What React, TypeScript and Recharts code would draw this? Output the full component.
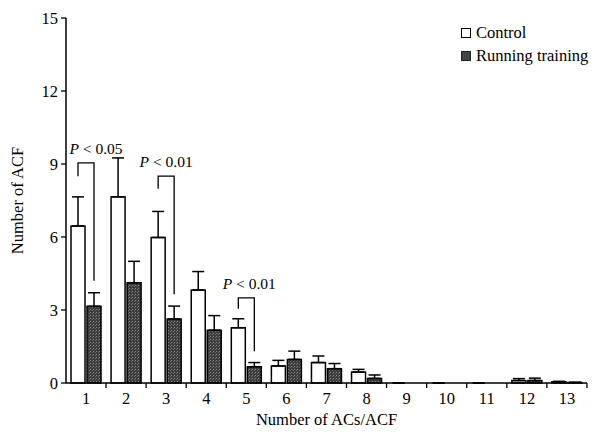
import { Bar, BarChart, ErrorBar, XAxis, YAxis } from 'recharts'

const categories = ['1', '2', '3', '4', '5', '6', '7', '8', '9', '10', '11', '12', '13']
const control = [6.45, 7.65, 5.98, 3.82, 2.27, 0.7, 0.84, 0.45, 0, 0, 0, 0.1, 0.05]
const controlErr = [1.2, 1.6, 1.07, 0.76, 0.37, 0.23, 0.27, 0.11, 0, 0, 0, 0.08, 0.02]
const running = [3.15, 4.12, 2.63, 2.17, 0.67, 0.97, 0.59, 0.19, 0, 0, 0, 0.1, 0.02]
const runningErr = [0.56, 0.88, 0.53, 0.6, 0.17, 0.34, 0.21, 0.14, 0, 0, 0, 0.1, 0.01]
const yTicks = [0, 3, 6, 9, 12, 15]
const seriesNames = ['Control', 'Running training']

// significance brackets: category, bracket top, left leg end, right leg end, label
const bracketCats = ['1', '3', '5']
const bracketTop = [9.05, 8.5, 3.5]
const bracketLeftEnd = [8.5, 7.98, 3.05]
const bracketRightEnd = [4.2, 3.65, 1.3]
const bracketLabels = ['0.05', '0.01', '0.01']

const data = categories.map((c, i) => ({
    cat: c,
    control: control[i],
    controlErr: [0, controlErr[i]],
    running: running[i],
    runningErr: [0, runningErr[i]],
}))

const FONT = '"Liberation Serif", "DejaVu Serif", serif'
const BAR_SIZE = 14
const BAR_GAP = 2
const PLOT_W = 520
const LABEL_DX = [10, 0, 3]

const XTick = (props: any) => {
    const { x, y, payload } = props
    const half = PLOT_W / categories.length / 2
    return (
        <g>
            <line x1={x + half} x2={x + half} y1={y - 9} y2={y - 4} stroke="#000" strokeWidth={1.3} />
            <text x={x} y={y} dy="0.71em" textAnchor="middle" fontFamily={FONT} fontSize={16.5} fill="#000">
                {payload.value}
            </text>
        </g>
    )
}

const ControlShape = (props: any) => {
    const { x, y, width, height, payload } = props
    const i = bracketCats.indexOf(payload.cat)
    let bracket = null
    if (i >= 0 && payload.control > 0) {
        const base = y + height
        const k = height / payload.control
        const py = (v: number) => base - v * k
        const lx = x + width / 2
        const rx = x + width + BAR_GAP + width / 2
        bracket = (
            <g>
                <path
                    d={`M${lx},${py(bracketLeftEnd[i])}V${py(bracketTop[i])}H${rx}V${py(bracketRightEnd[i])}`}
                    fill="none"
                    stroke="#000"
                    strokeWidth={1.3}
                />
                <text
                    x={(lx + rx) / 2 + LABEL_DX[i]}
                    y={py(bracketTop[i]) - 9}
                    textAnchor="middle"
                    fontFamily={FONT}
                    fontSize={15.5}
                    fill="#000"
                >
                    <tspan fontStyle="italic">P</tspan>
                    {` < ${bracketLabels[i]}`}
                </text>
            </g>
        )
    }
    return (
        <g>
            <rect x={x} y={y} width={width} height={height} fill="#fff" stroke="#000" strokeWidth={1.5} />
            {bracket}
        </g>
    )
}

const LegendBox = () => (
    <div
        style={{
            position: 'absolute',
            left: 461,
            top: 21,
            fontFamily: FONT,
            fontSize: 16.5,
            color: '#000',
            lineHeight: '23px',
        }}
    >
        <div style={{ display: 'flex', alignItems: 'center' }}>
            <span style={{ width: 8, height: 8, border: '1.5px solid #000', background: '#fff', marginRight: 5 }} />
            {seriesNames[0]}
        </div>
        <div style={{ display: 'flex', alignItems: 'center' }}>
            <span style={{ width: 8, height: 8, border: '1.5px solid #222', background: '#444', marginRight: 5 }} />
            {seriesNames[1]}
        </div>
    </div>
)

export default function App() {
    return (
        <div style={{ position: 'absolute', left: 0, top: 0, width: 597, height: 438, background: '#fff' }}>
            <BarChart
                width={597}
                height={438}
                data={data}
                barSize={BAR_SIZE}
                barGap={BAR_GAP}
                margin={{ top: 18, right: 10, bottom: 0, left: 0 }}
            >
                <defs>
                    <pattern id="grain" width="3" height="3" patternUnits="userSpaceOnUse">
                        <rect width="3" height="3" fill="#3c3c3c" />
                        <rect x="0" y="0" width="1" height="1" fill="#8a8a8a" />
                        <rect x="2" y="1" width="1" height="1" fill="#6a6a6a" />
                    </pattern>
                </defs>
                <XAxis
                    dataKey="cat"
                    height={55}
                    interval={0}
                    tickLine={false}
                    tickSize={5}
                    tickMargin={4}
                    axisLine={{ stroke: '#000', strokeWidth: 1.5 }}
                    tick={<XTick />}
                    label={{
                        value: 'Number of ACs/ACF',
                        position: 'insideBottom',
                        offset: 13,
                        fontFamily: FONT,
                        fontSize: 16.5,
                        fill: '#000',
                    }}
                />
                <YAxis
                    width={66}
                    domain={[0, 15]}
                    ticks={yTicks}
                    tickSize={5}
                    tickMargin={3}
                    axisLine={{ stroke: '#000', strokeWidth: 1.5 }}
                    tickLine={{ stroke: '#000', strokeWidth: 1.3 }}
                    tick={{ fontFamily: FONT, fontSize: 16.5, fill: '#000' }}
                    label={{
                        value: 'Number of ACF',
                        angle: -90,
                        position: 'insideLeft',
                        offset: 17,
                        style: { textAnchor: 'middle' },
                        fontFamily: FONT,
                        fontSize: 16.5,
                        fill: '#000',
                    }}
                />
                <Bar dataKey="control" name={seriesNames[0]} fill="#fff" stroke="#000" shape={<ControlShape />} isAnimationActive={false}>
                    <ErrorBar dataKey="controlErr" width={6} stroke="#000" strokeWidth={1.5} isAnimationActive={false} />
                </Bar>
                <Bar dataKey="running" name={seriesNames[1]} fill="url(#grain)" stroke="#000" strokeWidth={1.5} isAnimationActive={false}>
                    <ErrorBar dataKey="runningErr" width={6} stroke="#000" strokeWidth={1.5} isAnimationActive={false} />
                </Bar>
            </BarChart>
            <LegendBox />
        </div>
    )
}
